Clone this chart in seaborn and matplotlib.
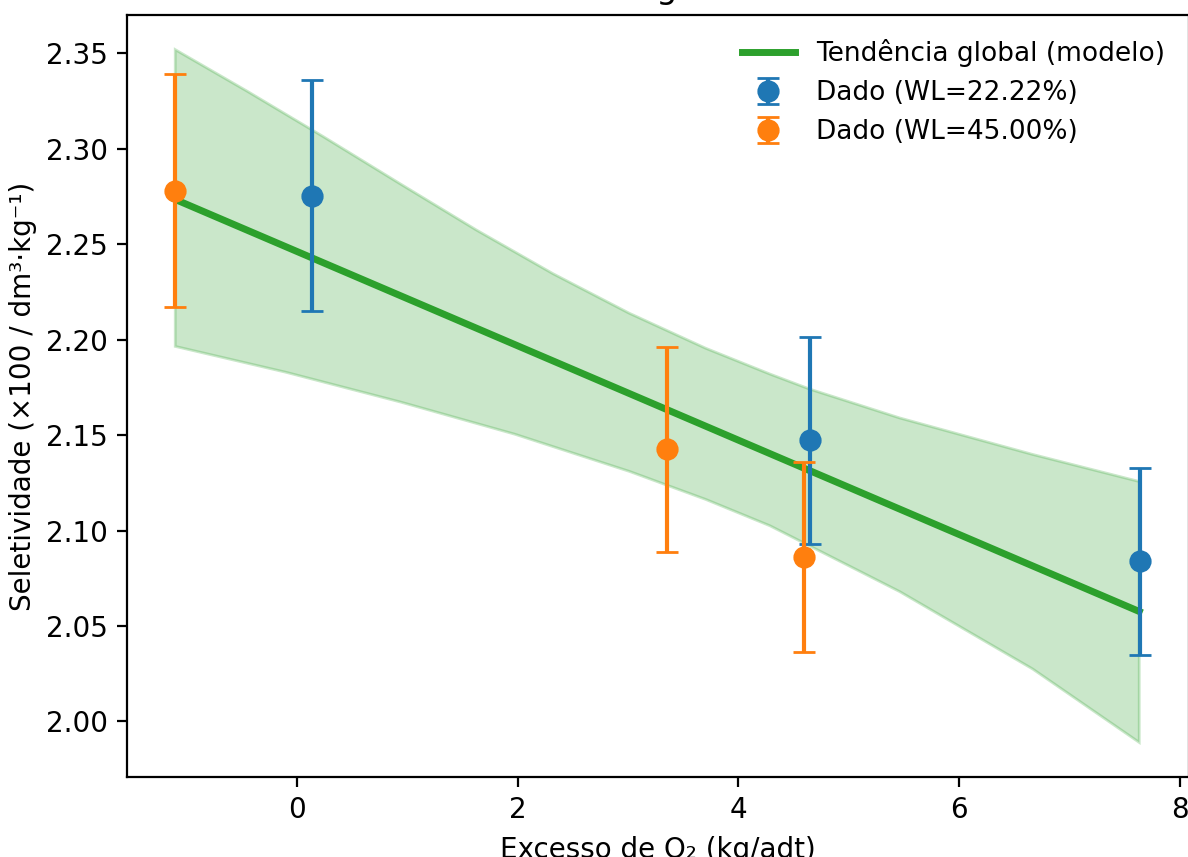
#!/usr/bin/env python3

import matplotlib
matplotlib.use("Agg")
import matplotlib.pyplot as plt
import pandas as pd
import seaborn as sns


wl22_x = [0.14, 4.65, 7.64]
wl22_y = [2.2755, 2.1472, 2.0840]
wl22_err = [0.0605, 0.0540, 0.0490]

wl45_x = [-1.10, 3.35, 4.59]
wl45_y = [2.2780, 2.1425, 2.0862]
wl45_err = [0.0610, 0.0535, 0.0498]

# global trend line (model)
trend_x = [-1.10, 7.63]
trend_y = [2.2735, 2.0576]

# confidence band of the model, upper and lower edges
band_hi_x = [-1.10, -0.448, 0.244, 0.937, 1.627, 2.321, 3.011, 3.705, 4.286, 4.647, 5.461, 6.664, 7.63]
band_hi_y = [2.3520, 2.3302, 2.3063, 2.2817, 2.2575, 2.2346, 2.2139, 2.1955, 2.1820, 2.1741, 2.1590, 2.1399, 2.1257]
band_lo_x = [-1.10, -0.101, 0.937, 1.975, 3.013, 3.705, 4.286, 5.461, 6.664, 7.63]
band_lo_y = [2.1965, 2.1830, 2.1674, 2.1505, 2.1310, 2.1163, 2.1025, 2.0680, 2.0275, 1.9890]


if __name__ == "__main__":
	trend = pd.DataFrame({"x": trend_x, "y": trend_y})

	fig = plt.figure(figsize=(5.94, 4.285), dpi=200)
	ax = fig.add_axes([0.1069, 0.0933, 0.8936, 0.8892])

	# band polygon: upper edge left->right, lower edge right->left
	poly_x = band_hi_x + band_lo_x[::-1]
	poly_y = band_hi_y + band_lo_y[::-1]
	ax.fill(poly_x, poly_y, color="#2ca02c", alpha=0.25, linewidth=1)

	sns.lineplot(data=trend, x="x", y="y", ax=ax, color="#2ca02c", linewidth=2.5,
		label="Tendência global (modelo)")

	ax.errorbar(wl22_x, wl22_y, yerr=wl22_err, fmt="o", color="#1f77b4", ms=7,
		capsize=4, elinewidth=1.5, label="Dado (WL=22.22%)")
	ax.errorbar(wl45_x, wl45_y, yerr=wl45_err, fmt="o", color="#ff7f0e", ms=7,
		capsize=4, elinewidth=1.5, label="Dado (WL=45.00%)")

	ax.set_xlabel("Excesso de O₂ (kg/adt)")
	ax.set_ylabel("Seletividade (×100 / dm³·kg⁻¹)", labelpad=3)
	ax.set_title("Seletividade: tendência global vs. excesso de O₂", fontsize=12)

	ax.legend(loc="upper right", frameon=False, fontsize=9.5, labelspacing=0.5)

	plt.savefig("out.png", dpi=200)
	plt.close()
